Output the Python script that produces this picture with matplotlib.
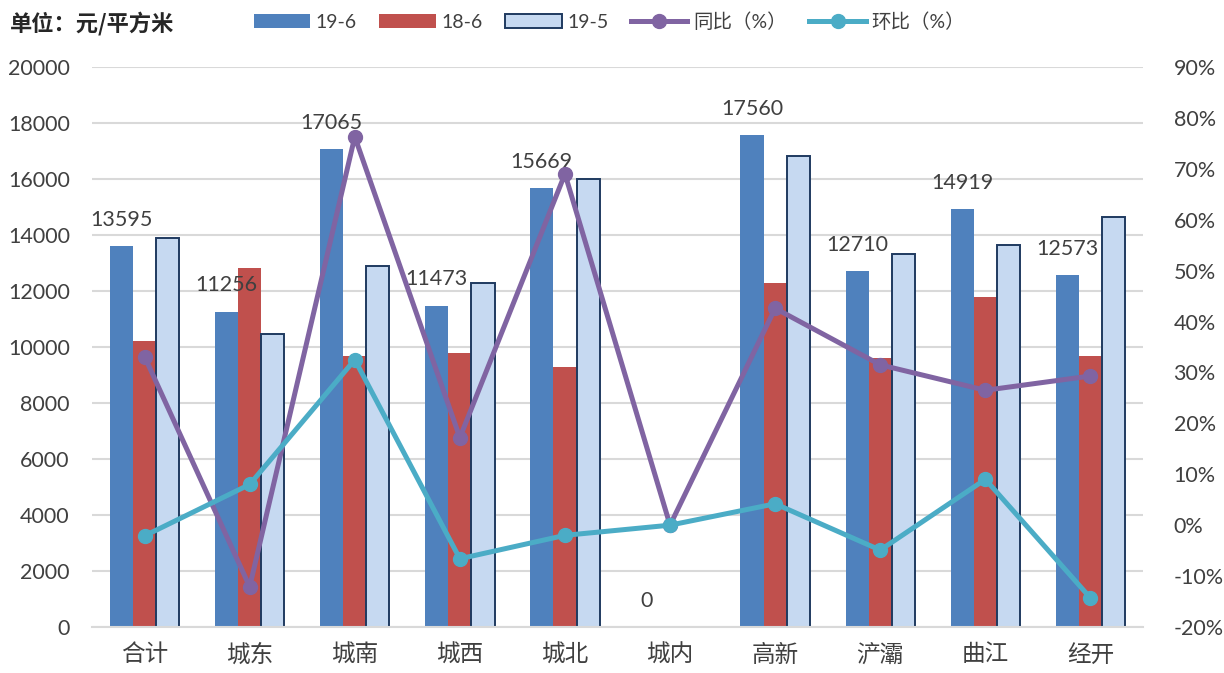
import numpy as np
import matplotlib.pyplot as plt

plt.rcParams['font.family'] = ['Lato', 'Noto Sans CJK SC', 'DejaVu Sans']

cats = ['合计', '城东', '城南', '城西', '城北', '城内', '高新', '浐灞', '曲江', '经开']
p19_6 = [13595, 11256, 17065, 11473, 15669, 0, 17560, 12710, 14919, 12573]
p18_6 = [10210, 12810, 9680, 9800, 9270, 0, 12280, 9620, 11770, 9690]
p19_5 = [13910, 10450, 12900, 12290, 16010, 0, 16820, 13320, 13660, 14630]
yoy = [33.1, -12.1, 76.3, 17.2, 69.0, 0.0, 42.6, 31.5, 26.5, 29.3]
mom = [-2.1, 8.0, 32.5, -6.6, -2.0, 0.0, 4.2, -4.9, 9.0, -14.3]

fig = plt.figure(figsize=(12.24, 6.73), dpi=100)
ax = fig.add_axes([0.0752, 0.0684, 0.8586, 0.832])
x = np.arange(len(cats))
w = 0.22

b1 = ax.bar(x - w, p19_6, w, color='#4F81BD', label='19-6', zorder=2)
b2 = ax.bar(x, p18_6, w, color='#C0504D', label='18-6', zorder=2)
b3 = ax.bar(x + w, p19_5, w, color='#C6D9F1', edgecolor='#1F3A60', linewidth=1.4,
            label='19-5', zorder=2)

for xi, v in zip(x, p19_6):
    ax.annotate(str(v), (xi - w, v), xytext=(0, 19), textcoords='offset points',
                ha='center', va='center', fontsize=15.5, color='#404040')

ax.set_xlim(-0.5, len(cats) - 0.5)
ax.set_ylim(0, 20000)
ax.set_yticks(np.arange(0, 20001, 2000))
ax.set_xticks(x)
ax.set_xticklabels(cats, fontsize=17, color='#404040')
ax.tick_params(axis='y', labelsize=15.5, colors='#404040', length=0, pad=16)
ax.tick_params(axis='x', length=0, pad=12)
ax.grid(axis='y', color='#D9D9D9', linewidth=1.5, zorder=0)
ax.set_axisbelow(True)
for s in ['top', 'left', 'right']:
    ax.spines[s].set_visible(False)
ax.spines['bottom'].set_color('#D9D9D9')
ax.spines['bottom'].set_linewidth(1.5)

ax2 = ax.twinx()
l1, = ax2.plot(x, yoy, color='#8064A2', lw=3.6, marker='o', ms=10, label='同比（%）')
l2, = ax2.plot(x, mom, color='#4BACC6', lw=3.6, marker='o', ms=10, label='环比（%）')
ax2.set_ylim(-20, 90)
ax2.set_yticks(np.arange(-20, 91, 10))
ax2.set_yticklabels([f'{t}%' for t in range(-20, 91, 10)])
ax2.tick_params(axis='y', labelsize=15.5, colors='#404040', length=0, pad=22)
for s in ax2.spines.values():
    s.set_visible(False)

fig.text(0.008, 0.965, '单位：元/平方米', fontsize=16, fontweight='bold',
         family=['Noto Sans CJK SC'], va='center', ha='left', color='#262626')

fig.legend([b1, b2, b3, l1, l2], ['19-6', '18-6', '19-5', '同比（%）', '环比（%）'],
           loc='center left', bbox_to_anchor=(0.193, 0.968), ncol=5, frameon=False,
           fontsize=14, handlelength=2.9, handletextpad=0.3, columnspacing=1.15,
           labelcolor='#404040')

fig.savefig('out.png', dpi=100)
